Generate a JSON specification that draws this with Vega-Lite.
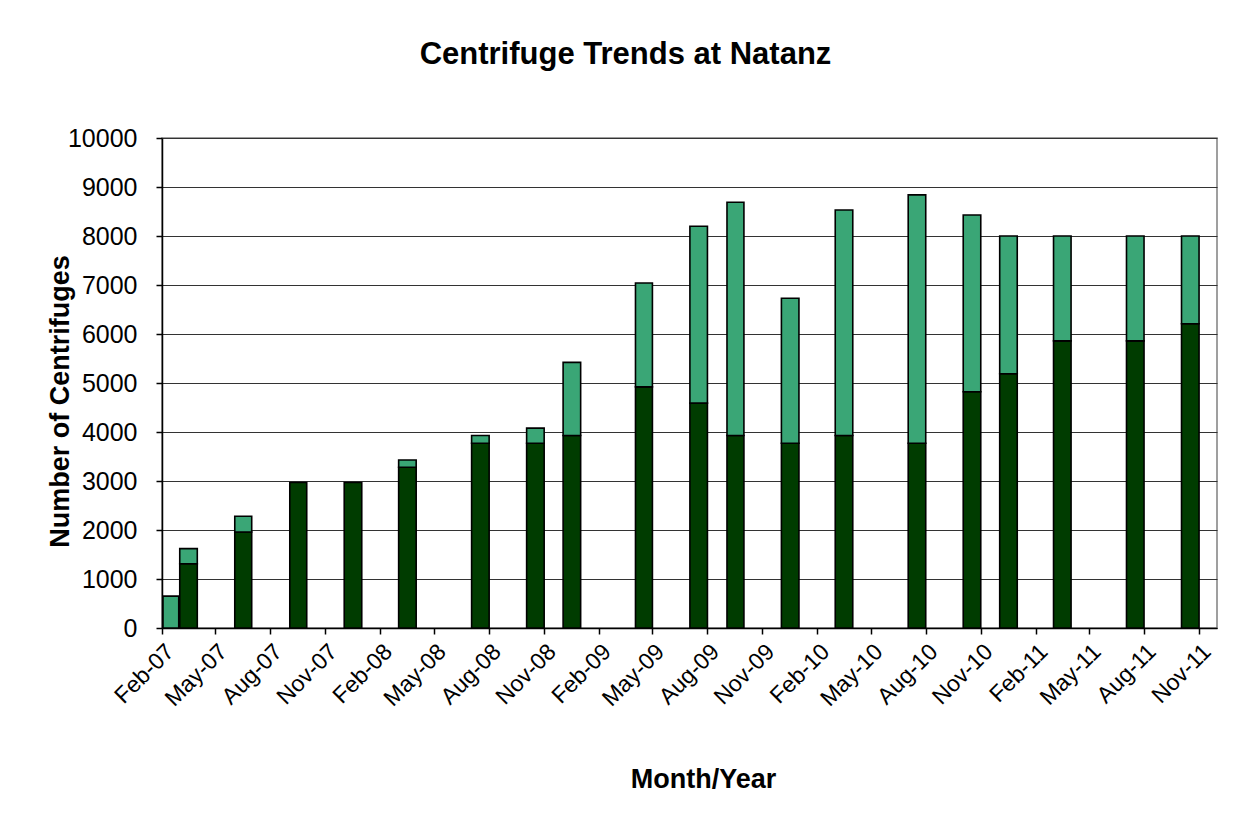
{
  "$schema": "https://vega.github.io/schema/vega-lite/v6.json",
  "width": 1055,
  "height": 490,
  "autosize": {"type": "none"},
  "padding": {"left": 162, "top": 138, "right": 24, "bottom": 201},
  "background": "white",
  "title": {
    "text": "Centrifuge Trends at Natanz",
    "font": "Liberation Sans",
    "fontSize": 31,
    "fontWeight": "bold",
    "color": "black",
    "anchor": "middle",
    "dx": -64,
    "offset": 55
  },
  "config": {
    "view": {"stroke": "#808080", "strokeWidth": 1.5},
    "axis": {"labelFont": "Liberation Sans", "titleFont": "Liberation Sans", "labelColor": "black", "titleColor": "black", "domainColor": "black", "tickColor": "black", "domainWidth": 1.5, "tickWidth": 1.5}
  },
  "data": {
    "values": [
      {"date": "2007-02-01", "status": "Installed, not operating", "count": 650},
      {"date": "2007-03-01", "status": "Operating", "count": 1310},
      {"date": "2007-03-01", "status": "Installed, not operating", "count": 310},
      {"date": "2007-06-01", "status": "Operating", "count": 1960},
      {"date": "2007-06-01", "status": "Installed, not operating", "count": 320},
      {"date": "2007-09-01", "status": "Operating", "count": 2970},
      {"date": "2007-12-01", "status": "Operating", "count": 2970},
      {"date": "2008-03-01", "status": "Operating", "count": 3280},
      {"date": "2008-03-01", "status": "Installed, not operating", "count": 150},
      {"date": "2008-07-01", "status": "Operating", "count": 3770},
      {"date": "2008-07-01", "status": "Installed, not operating", "count": 160},
      {"date": "2008-10-01", "status": "Operating", "count": 3770},
      {"date": "2008-10-01", "status": "Installed, not operating", "count": 310},
      {"date": "2008-12-01", "status": "Operating", "count": 3930},
      {"date": "2008-12-01", "status": "Installed, not operating", "count": 1490},
      {"date": "2009-04-01", "status": "Operating", "count": 4920},
      {"date": "2009-04-01", "status": "Installed, not operating", "count": 2120},
      {"date": "2009-07-01", "status": "Operating", "count": 4590},
      {"date": "2009-07-01", "status": "Installed, not operating", "count": 3610},
      {"date": "2009-09-01", "status": "Operating", "count": 3930},
      {"date": "2009-09-01", "status": "Installed, not operating", "count": 4760},
      {"date": "2009-12-01", "status": "Operating", "count": 3770},
      {"date": "2009-12-01", "status": "Installed, not operating", "count": 2960},
      {"date": "2010-03-01", "status": "Operating", "count": 3930},
      {"date": "2010-03-01", "status": "Installed, not operating", "count": 4600},
      {"date": "2010-07-01", "status": "Operating", "count": 3770},
      {"date": "2010-07-01", "status": "Installed, not operating", "count": 5070},
      {"date": "2010-10-01", "status": "Operating", "count": 4820},
      {"date": "2010-10-01", "status": "Installed, not operating", "count": 3610},
      {"date": "2010-12-01", "status": "Operating", "count": 5190},
      {"date": "2010-12-01", "status": "Installed, not operating", "count": 2810},
      {"date": "2011-03-01", "status": "Operating", "count": 5860},
      {"date": "2011-03-01", "status": "Installed, not operating", "count": 2140},
      {"date": "2011-07-01", "status": "Operating", "count": 5860},
      {"date": "2011-07-01", "status": "Installed, not operating", "count": 2140},
      {"date": "2011-10-01", "status": "Operating", "count": 6210},
      {"date": "2011-10-01", "status": "Installed, not operating", "count": 1790}
    ]
  },
  "mark": {"type": "bar", "stroke": "black", "strokeWidth": 1.6},
  "encoding": {
    "x": {
      "field": "date",
      "type": "temporal",
      "timeUnit": "utcyearmonth",
      "scale": {
        "type": "utc",
        "domain": [
          {"year": 2007, "month": 2, "date": 1, "utc": true},
          {"year": 2011, "month": 12, "date": 1, "utc": true}
        ]
      },
      "axis": {
        "title": "Month/Year",
        "titleFontSize": 27,
        "titleFontWeight": "bold",
        "titlePadding": 56,
        "titleX": 541,
        "labelFontSize": 23,
        "labelAngle": -45,
        "labelPadding": 6,
        "tickSize": 6,
        "format": "%b-%y",
        "grid": false,
        "labelOverlap": false,
        "values": [
          {"year": 2007, "month": 2, "date": 1, "utc": true},
          {"year": 2007, "month": 5, "date": 1, "utc": true},
          {"year": 2007, "month": 8, "date": 1, "utc": true},
          {"year": 2007, "month": 11, "date": 1, "utc": true},
          {"year": 2008, "month": 2, "date": 1, "utc": true},
          {"year": 2008, "month": 5, "date": 1, "utc": true},
          {"year": 2008, "month": 8, "date": 1, "utc": true},
          {"year": 2008, "month": 11, "date": 1, "utc": true},
          {"year": 2009, "month": 2, "date": 1, "utc": true},
          {"year": 2009, "month": 5, "date": 1, "utc": true},
          {"year": 2009, "month": 8, "date": 1, "utc": true},
          {"year": 2009, "month": 11, "date": 1, "utc": true},
          {"year": 2010, "month": 2, "date": 1, "utc": true},
          {"year": 2010, "month": 5, "date": 1, "utc": true},
          {"year": 2010, "month": 8, "date": 1, "utc": true},
          {"year": 2010, "month": 11, "date": 1, "utc": true},
          {"year": 2011, "month": 2, "date": 1, "utc": true},
          {"year": 2011, "month": 5, "date": 1, "utc": true},
          {"year": 2011, "month": 8, "date": 1, "utc": true},
          {"year": 2011, "month": 11, "date": 1, "utc": true}
        ]
      }
    },
    "y": {
      "field": "count",
      "type": "quantitative",
      "aggregate": "sum",
      "stack": "zero",
      "scale": {"domain": [0, 10000], "nice": false},
      "axis": {
        "title": "Number of Centrifuges",
        "titleFontSize": 27,
        "titleFontWeight": "bold",
        "titlePadding": -7,
        "titleY": 263,
        "labelFontSize": 25,
        "labelPadding": 19,
        "tickSize": 6,
        "values": [0, 1000, 2000, 3000, 4000, 5000, 6000, 7000, 8000, 9000, 10000],
        "format": "d",
        "grid": true,
        "gridColor": "#333333",
        "gridWidth": 1.2
      }
    },
    "color": {
      "field": "status",
      "type": "nominal",
      "scale": {"domain": ["Operating", "Installed, not operating"], "range": ["#003c00", "#3aa676"]},
      "legend": null
    },
    "order": {"field": "status", "sort": "descending"}
  }
}
